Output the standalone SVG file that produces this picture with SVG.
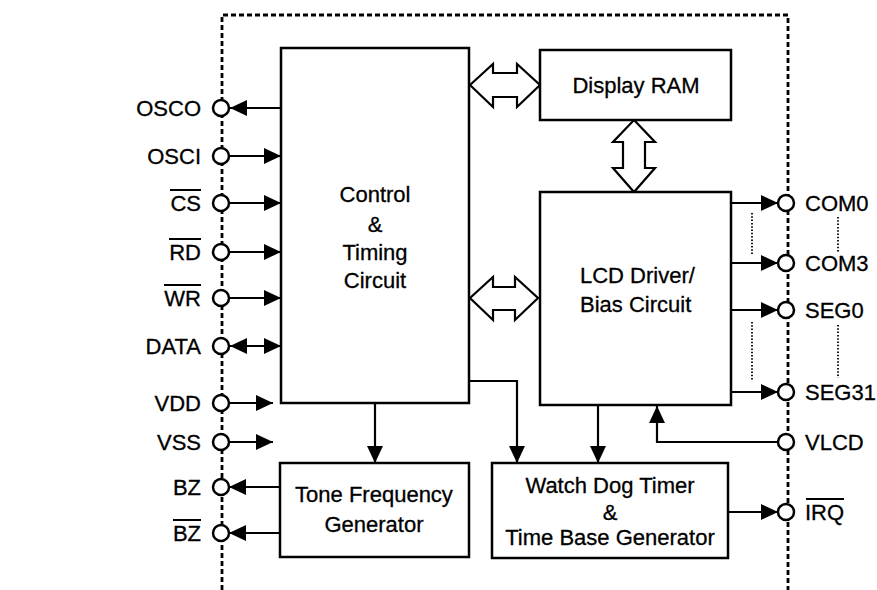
<svg xmlns="http://www.w3.org/2000/svg" width="877" height="590" viewBox="0 0 877 590">
<style>
.box{fill:#fff;stroke:#000;stroke-width:2.5}
.ln{fill:none;stroke:#000;stroke-width:2.2}
.bus{fill:#fff;stroke:#000;stroke-width:2.2;stroke-linejoin:miter}
.pin{fill:#fff;stroke:#000;stroke-width:2.5}
.dot{fill:none;stroke:#000;stroke-width:1.8;stroke-dasharray:1.5 1.8}
.border{fill:none;stroke:#000;stroke-width:2.8;stroke-dasharray:5 3}
text{font-family:"Liberation Sans",Arial,sans-serif;font-size:22px;fill:#000;stroke:#000;stroke-width:0.3}
.l{text-anchor:end}
.c{text-anchor:middle}
.ov{stroke:#000;stroke-width:2}
</style>
<defs>
<marker id="ah" viewBox="0 0 17 16" refX="17" refY="8" markerWidth="17" markerHeight="16" markerUnits="userSpaceOnUse" orient="auto-start-reverse">
<path d="M0,0 L17,8 L0,16 z" fill="#000"/>
</marker>
</defs>
<rect width="877" height="590" fill="#fff"/>
<path class="border" d="M222,590 V15 H788 V590"/>
<g id="connectors">
<line class="ln" x1="281" y1="108" x2="230" y2="108" marker-end="url(#ah)"/>
<line class="ln" x1="229" y1="156" x2="281" y2="156" marker-end="url(#ah)"/>
<line class="ln" x1="229" y1="203" x2="281" y2="203" marker-end="url(#ah)"/>
<line class="ln" x1="229" y1="252" x2="281" y2="252" marker-end="url(#ah)"/>
<line class="ln" x1="229" y1="298" x2="281" y2="298" marker-end="url(#ah)"/>
<line class="ln" x1="230" y1="346" x2="281" y2="346" marker-start="url(#ah)" marker-end="url(#ah)"/>
<line class="ln" x1="229" y1="403" x2="273" y2="403" marker-end="url(#ah)"/>
<line class="ln" x1="229" y1="442" x2="273" y2="442" marker-end="url(#ah)"/>
<line class="ln" x1="280" y1="487" x2="229" y2="487" marker-end="url(#ah)"/>
<line class="ln" x1="280" y1="533" x2="229" y2="533" marker-end="url(#ah)"/>
<line class="ln" x1="731" y1="203" x2="778" y2="203" marker-end="url(#ah)"/>
<line class="ln" x1="731" y1="263" x2="778" y2="263" marker-end="url(#ah)"/>
<line class="ln" x1="731" y1="310" x2="778" y2="310" marker-end="url(#ah)"/>
<line class="ln" x1="731" y1="392" x2="778" y2="392" marker-end="url(#ah)"/>
<polyline class="ln" points="778,442 657,442 657,406" marker-end="url(#ah)"/>
<line class="ln" x1="728" y1="512" x2="778" y2="512" marker-end="url(#ah)"/>
<line class="ln" x1="375" y1="403" x2="375" y2="463" marker-end="url(#ah)"/>
<polyline class="ln" points="469,381 517,381 517,463" marker-end="url(#ah)"/>
<line class="ln" x1="598" y1="405" x2="598" y2="463" marker-end="url(#ah)"/>
<polygon class="bus" points="470,85 493,64 493,73 517,73 517,64 540,85 517,107 517,97 493,97 493,107"/>
<polygon class="bus" points="470,298 493,277 493,287 515,287 515,277 538,298 515,320 515,310 493,310 493,320"/>
<polygon class="bus" points="634,120 655,142 645,142 645,168 655,168 634,192 613,168 623,168 623,142 613,142"/>
<line class="dot" x1="752" y1="213" x2="752" y2="255"/>
<line class="dot" x1="752" y1="322" x2="752" y2="380"/>
<line class="dot" x1="838" y1="217" x2="838" y2="252"/>
<line class="dot" x1="838" y1="325" x2="838" y2="378"/>
</g>
<g id="control">
<rect class="box" x="281" y="48" width="188" height="355"/>
<text class="c" x="375" y="202">Control</text>
<text class="c" x="375" y="232">&amp;</text>
<text class="c" x="375" y="260">Timing</text>
<text class="c" x="375" y="288">Circuit</text>
</g>
<g id="display-ram">
<rect class="box" x="540" y="50" width="191" height="70"/>
<text class="c" x="636" y="93">Display RAM</text>
</g>
<g id="lcd-driver">
<rect class="box" x="540" y="192" width="191" height="213"/>
<text x="580" y="283">LCD Driver/</text>
<text x="580" y="312">Bias Circuit</text>
</g>
<g id="tone">
<rect class="box" x="280" y="463" width="189" height="94"/>
<text class="c" x="374" y="502">Tone Frequency</text>
<text class="c" x="374" y="532">Generator</text>
</g>
<g id="watchdog">
<rect class="box" x="492" y="463" width="236" height="95"/>
<text class="c" x="610" y="493">Watch Dog Timer</text>
<text class="c" x="610" y="520">&amp;</text>
<text class="c" x="610" y="545">Time Base Generator</text>
</g>
<g id="pins-left">
<circle class="pin" cx="221" cy="108" r="8"/><text class="l" x="201" y="116">OSCO</text>
<circle class="pin" cx="221" cy="156" r="8"/><text class="l" x="201" y="164">OSCI</text>
<circle class="pin" cx="221" cy="203" r="8"/><text class="l" x="201" y="211">CS</text>
<line class="ov" x1="170" y1="190" x2="201" y2="190"/>
<circle class="pin" cx="221" cy="252" r="8"/><text class="l" x="201" y="260">RD</text>
<line class="ov" x1="169" y1="239" x2="201" y2="239"/>
<circle class="pin" cx="221" cy="298" r="8"/><text class="l" x="201" y="306">WR</text>
<line class="ov" x1="164" y1="285" x2="201" y2="285"/>
<circle class="pin" cx="221" cy="346" r="8"/><text class="l" x="201" y="354">DATA</text>
<circle class="pin" cx="221" cy="403" r="8"/><text class="l" x="201" y="411">VDD</text>
<circle class="pin" cx="221" cy="442" r="8"/><text class="l" x="201" y="450">VSS</text>
<circle class="pin" cx="221" cy="487" r="8"/><text class="l" x="201" y="495">BZ</text>
<circle class="pin" cx="221" cy="533" r="8"/><text class="l" x="201" y="541">BZ</text>
<line class="ov" x1="173" y1="520" x2="201" y2="520"/>
</g>
<g id="pins-right">
<circle class="pin" cx="786" cy="203" r="8"/><text x="805" y="211">COM0</text>
<circle class="pin" cx="786" cy="263" r="8"/><text x="805" y="271">COM3</text>
<circle class="pin" cx="786" cy="310" r="8"/><text x="805" y="318">SEG0</text>
<circle class="pin" cx="786" cy="392" r="8"/><text x="805" y="400">SEG31</text>
<circle class="pin" cx="786" cy="442" r="8"/><text x="805" y="450">VLCD</text>
<circle class="pin" cx="786" cy="512" r="8"/><text x="805" y="520">IRQ</text>
<line class="ov" x1="806" y1="499" x2="844" y2="499"/>
</g>
</svg>
